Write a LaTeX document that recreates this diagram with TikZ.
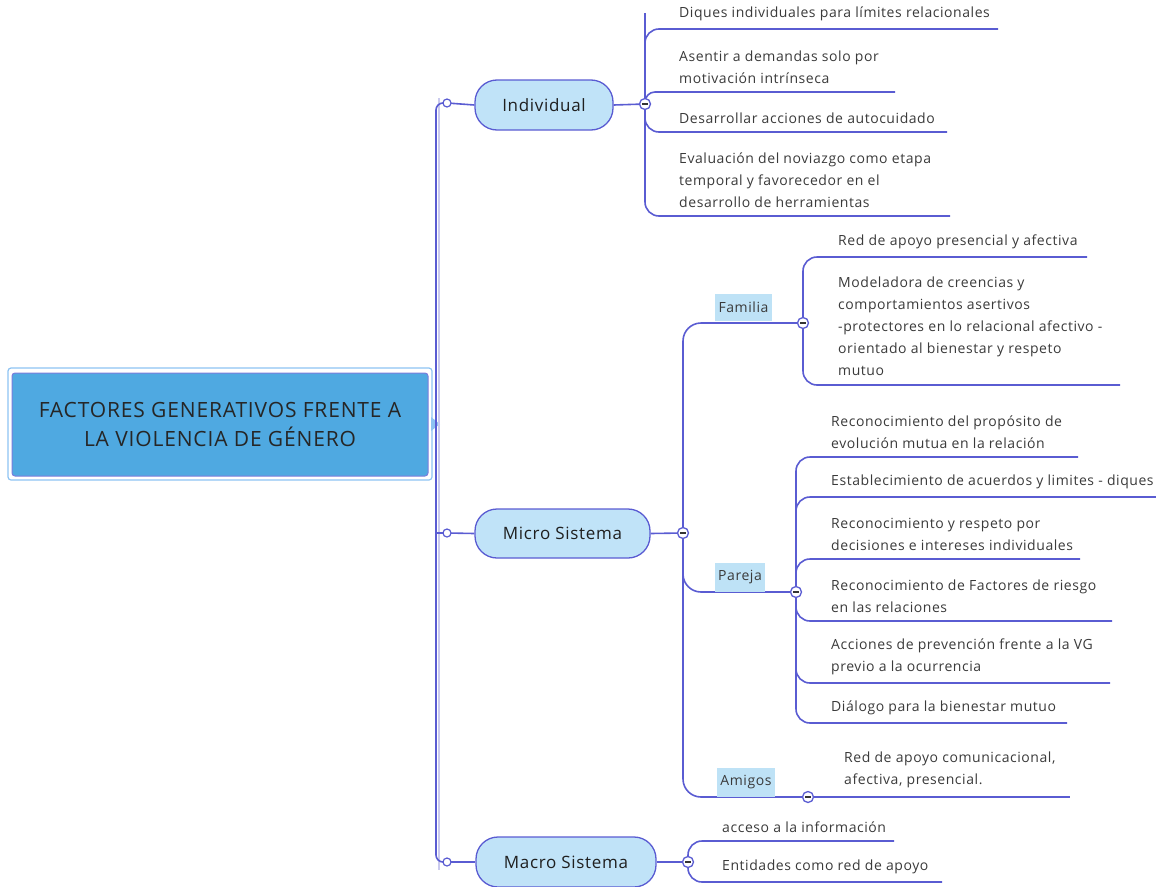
\documentclass[tikz,border=0pt]{standalone}
\usepackage{fontspec}
\setmainfont{Open Sans}
\newfontfamily\spacedfont{Open Sans}[LetterSpace=4]
\definecolor{lc}{HTML}{5A5CD2}
\definecolor{pillfill}{HTML}{C0E3F8}
\definecolor{rootfill}{HTML}{4FA9E1}
\definecolor{rootout}{HTML}{8EC3F2}
\definecolor{hl}{HTML}{BEE2F6}
\definecolor{txt}{HTML}{3A3A3A}
\definecolor{pale}{HTML}{CACAEE}
\begin{document}
\begin{tikzpicture}[x=1pt,y=-1pt,
  conn/.style={draw=lc,line width=1.6pt},
  branch/.style={conn,rounded corners=14pt},
  pill/.style={draw=lc,line width=1.3pt,fill=pillfill,rounded corners=22pt,inner sep=0pt,font=\spacedfont\fontsize{17}{19}\selectfont,text=black!88},
  oc/.style={circle,draw=lc,fill=white,line width=1.2pt,inner sep=0pt,minimum size=8pt},
  minusc/.style={circle,draw=lc,fill=white,line width=1.3pt,inner sep=0pt,minimum size=11pt,
    path picture={\draw[line width=1.6pt,black!80] ([xshift=2.8pt]path picture bounding box.west) -- ([xshift=-2.8pt]path picture bounding box.east);}},
  leaf/.style={anchor=south west,inner sep=0pt,align=left,font=\spacedfont\fontsize{14}{22}\selectfont,text=txt,yshift=2pt},
  tag/.style={fill=hl,inner sep=0pt,font=\spacedfont\fontsize{14}{16}\selectfont,text=txt}]
\useasboundingbox (0,0) rectangle (1156,886);
% root
\draw[rootout,line width=1.2pt,rounded corners=3pt] (8,368) rectangle (432,480);
\node[draw=lc!80,line width=1pt,fill=rootfill,rounded corners=3pt,minimum width=416pt,minimum height=103pt,inner sep=0pt,
  align=center,font=\spacedfont\fontsize{21}{29}\selectfont,text=black!85] (root) at (220,424.5)
  {FACTORES GENERATIVOS FRENTE A\\LA VIOLENCIA DE GÉNERO};
\coordinate (tk) at (436,424);
\fill[rootout] (431,417) -- (440,424) -- (431,431) -- cycle;
% positions
\coordinate (o1) at (447,103);
\coordinate (o2) at (447,533);
\coordinate (o3) at (447,862);
\coordinate (m1) at (645,104);
\coordinate (m2) at (683,533);
\coordinate (m3) at (688,862);
\coordinate (m4) at (803,323);
\coordinate (m5) at (796,592);
\coordinate (m6) at (808,797);
% trunk
\draw[pale,line width=1.6pt] (439,98) -- (439,870);
\draw[conn,rounded corners=7pt] (o1) -| (tk) |- (o3);
\draw[conn] (tk |- o2) -- (o2);
% level-1 pills
\node[pill,minimum width=138pt,minimum height=50pt] (ind) at (544,105) {Individual};
\node[pill,minimum width=175pt,minimum height=49pt] (mic) at (562.5,533.5) {Micro Sistema};
\node[pill,minimum width=180pt,minimum height=50pt] (mac) at (566,862) {Macro Sistema};
\draw[conn] (o1) -- (ind.west);
\draw[conn] (o2) -- (mic.west);
\draw[conn] (o3) -- (mac.west);
\draw[conn] (ind.east) -- (m1);
\draw[conn] (mic.east) -- (m2);
\draw[conn] (mac.east) -- (m3);
% Individual branches
\draw[conn] (645,13) -- (m1);
\draw[branch] (m1) |- (998,29);
\draw[conn,rounded corners=10pt] (m1) |- (895,92);
\draw[branch] (m1) |- (947,132);
\draw[branch] (m1) |- (950,216);
\node[leaf] (i1) at (679,23) {Diques individuales para límites relacionales};
\node[leaf] (i2) at (679,86) {Asentir a demandas solo por\\motivación intrínseca};
\node[leaf] (i3) at (679,126) {Desarrollar acciones de autocuidado};
\node[leaf] (i4) at (679,210) {Evaluación del noviazgo como etapa\\temporal y favorecedor en el\\desarrollo de herramientas};
% Micro branches
\draw[conn,rounded corners=18pt] (m2) |- (m4);
\draw[conn,rounded corners=18pt] (m2) |- (m5);
\draw[conn,rounded corners=18pt] (m2) |- (m6);
\node[tag,minimum width=57pt,minimum height=27pt] (fam) at (743.5,307) {Familia};
\node[tag,minimum width=50pt,minimum height=29pt] (par) at (740,577) {Pareja};
\node[tag,minimum width=58pt,minimum height=29pt] (ami) at (746,782) {Amigos};
% Familia
\draw[branch] (m4) |- (1087,257);
\draw[branch] (m4) |- (1120,385);
\node[leaf] (f1) at (838,251) {Red de apoyo presencial y afectiva};
\node[leaf,yshift=1pt] (f2) at (838,379) {Modeladora de creencias y\\comportamientos asertivos\\-protectores en lo relacional afectivo -\\orientado al bienestar y respeto\\mutuo};
% Pareja
\draw[branch] (m5) |- (1078,457);
\draw[branch] (m5) |- (1160,497);
\draw[branch] (m5) |- (1080,559);
\draw[branch] (m5) |- (1112,621);
\draw[branch] (m5) |- (1110,683);
\draw[branch] (m5) |- (1067,723);
\node[leaf] (p1) at (831,451) {Reconocimiento del propósito de\\evolución mutua en la relación};
\node[leaf] (p2) at (831,491) {Establecimiento de acuerdos y limites - diques};
\node[leaf] (p3) at (831,553) {Reconocimiento y respeto por\\decisiones e intereses individuales};
\node[leaf] (p4) at (831,615) {Reconocimiento de Factores de riesgo\\en las relaciones};
\node[leaf] (p5) at (831,677) {Acciones de prevención frente a la VG\\previo a la ocurrencia};
\node[leaf] (p6) at (831,717) {Diálogo para la bienestar mutuo};
% Amigos
\draw[conn] (m6) -- (1070,797);
\node[leaf] (a1) at (844,790) {Red de apoyo comunicacional,\\afectiva, presencial.};
% Macro
\draw[branch] (m3) |- (894,841);
\draw[branch] (m3) |- (942,882);
\node[leaf] (k1) at (722,835) {acceso a la información};
\node[leaf] (k2) at (722,876) {Entidades como red de apoyo};
% circles
\node[oc] at (o1) {};
\node[oc] at (o2) {};
\node[oc] at (o3) {};
\node[minusc] at (m1) {};
\node[minusc] at (m2) {};
\node[minusc] at (m3) {};
\node[minusc] at (m4) {};
\node[minusc] at (m5) {};
\node[minusc] at (m6) {};
\end{tikzpicture}
\end{document}
